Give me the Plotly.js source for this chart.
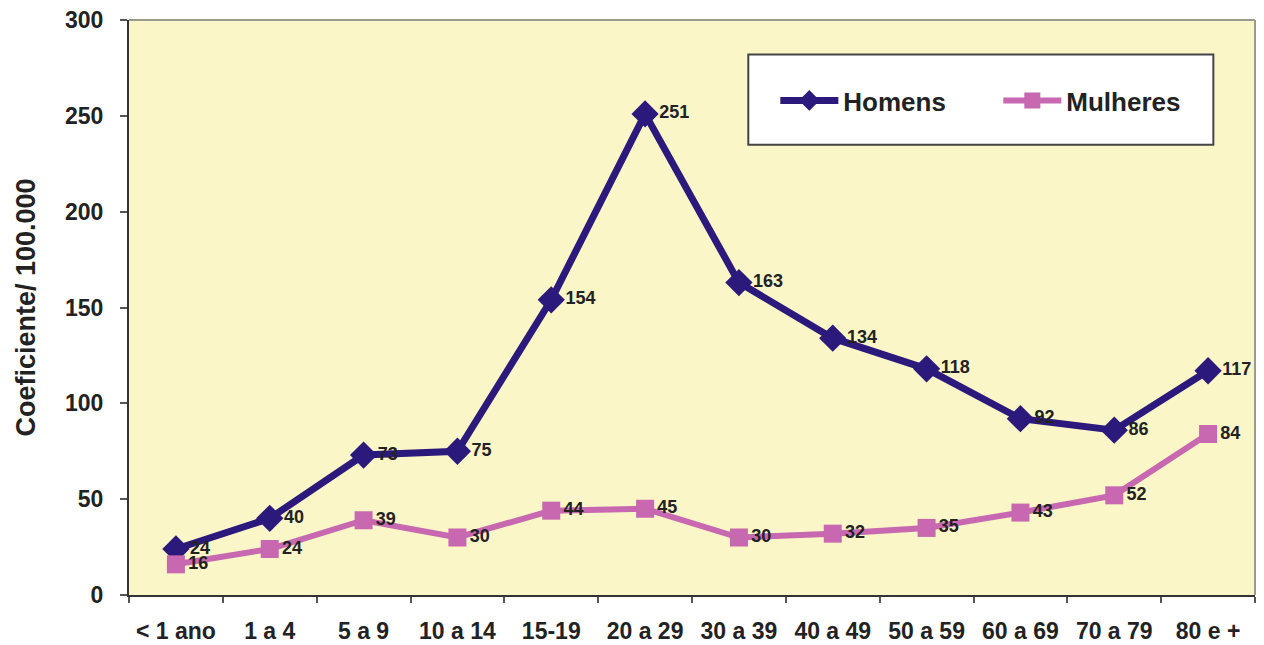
<!DOCTYPE html>
<html><head><meta charset="utf-8">
<script src="https://cdn.plot.ly/plotly-3.0.1.min.js"></script>
<style>html,body{margin:0;padding:0;background:#fff;}#chart{width:1264px;height:645px;}</style>
</head><body><div id="chart"></div>
<script>
const categories = ['< 1 ano','1 a 4','5 a 9','10 a 14','15-19','20 a 29','30 a 39','40 a 49','50 a 59','60 a 69','70 a 79','80 e +'];
const homens = [24, 40, 73, 75, 154, 251, 163, 134, 118, 92, 86, 117];
const mulheres = [16, 24, 39, 30, 44, 45, 30, 32, 35, 43, 52, 84];
const yTicks = [0, 50, 100, 150, 200, 250, 300];

const FONT = 'Liberation Sans, Arial, sans-serif';
const labelFont = {family: FONT, size: 18, color: '#222', weight: 'bold'};

const traces = [
  {x: categories, y: homens, name: 'Homens', type: 'scatter', mode: 'lines+markers+text',
   line: {color: '#2b1a7c', width: 7}, marker: {symbol: 'diamond', size: 21, color: '#2b1a7c'},
   text: homens.map(String), textposition: 'middle right', textfont: labelFont, cliponaxis: false},
  {x: categories, y: mulheres, name: 'Mulheres', type: 'scatter', mode: 'lines+markers+text',
   line: {color: '#c868b0', width: 6}, marker: {symbol: 'square', size: 18, color: '#c868b0'},
   text: mulheres.map(String), textposition: 'middle right', textfont: labelFont, cliponaxis: false}
];

const layout = {
  width: 1264, height: 645,
  margin: {l: 129, r: 9, t: 20, b: 50, autoexpand: false},
  paper_bgcolor: '#ffffff', plot_bgcolor: '#faf6c8',
  font: {family: FONT, color: '#222'},
  showlegend: true,
  legend: {orientation: 'h', x: 0.574, y: 0.86, xanchor: 'left', yanchor: 'middle',
           bgcolor: 'rgba(0,0,0,0)', borderwidth: 0,
           font: {size: 26, weight: 'bold', color: '#222'}, itemwidth: 58, entrywidth: 150},
  xaxis: {type: 'category', range: [-0.5, 11.5], showgrid: false, zeroline: false,
          showline: true, linecolor: '#333', linewidth: 2, ticks: 'outside', ticklen: 6, tickwidth: 2, tickcolor: '#555',
          tickson: 'boundaries', ticklabelstandoff: 14, tickfont: {size: 23, weight: 'bold', color: '#222'}},
  yaxis: {range: [0, 300], tickvals: yTicks, showgrid: false, zeroline: false,
          showline: true, linecolor: '#333', linewidth: 2, ticks: 'outside', ticklen: 7, tickwidth: 2, tickcolor: '#555',
          tickfont: {size: 23, weight: 'bold', color: '#222'}, ticklabelstandoff: 12,
          title: {text: 'Coeficiente/ 100.000', font: {size: 27, weight: 'bold', color: '#222'}, standoff: 22}},
  shapes: [
    {type: 'line', xref: 'paper', yref: 'paper', x0: 0, x1: 1, y0: 1, y1: 1, line: {color: '#9a9a90', width: 2}},
    {type: 'line', xref: 'paper', yref: 'paper', x0: 1, x1: 1, y0: 0, y1: 1, line: {color: '#9a9a90', width: 2}},
    {type: 'rect', xref: 'paper', yref: 'paper', x0: 0.55, x1: 0.963, y0: 0.783, y1: 0.94,
     fillcolor: '#ffffff', line: {color: '#444', width: 2}, layer: 'below'}
  ]
};

Plotly.newPlot('chart', traces, layout, {displayModeBar: false, staticPlot: true});
</script></body></html>
